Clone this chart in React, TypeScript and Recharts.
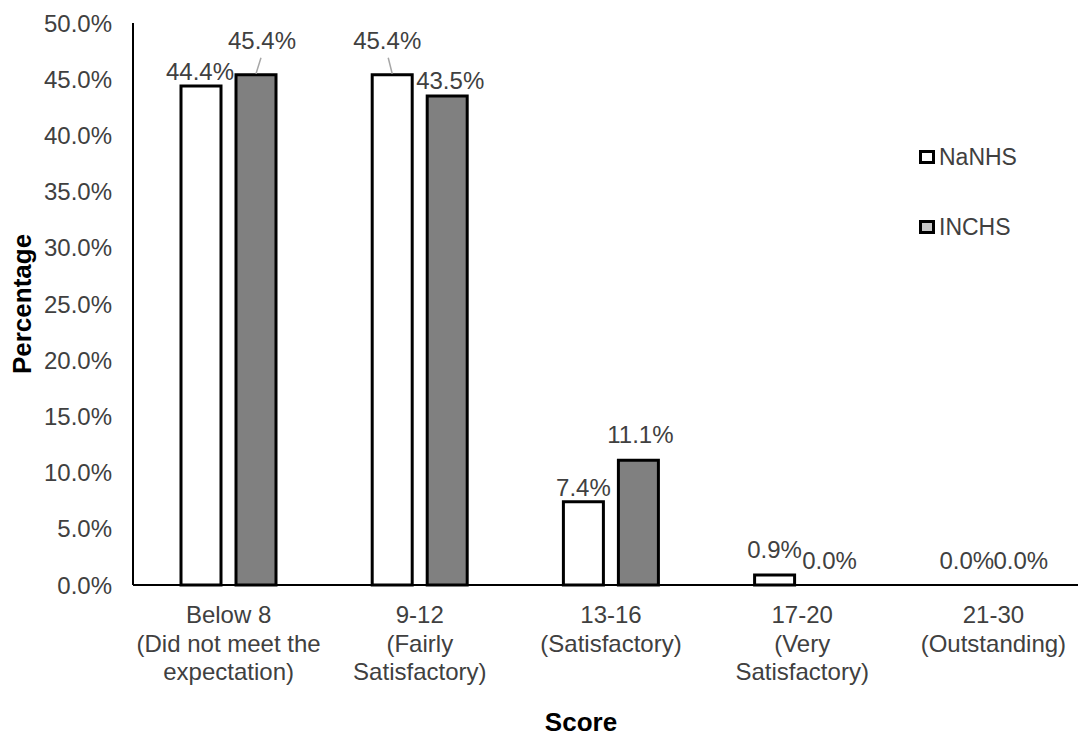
import React from 'react';
import { Bar, BarChart, LabelList, Legend, Rectangle, XAxis, YAxis } from 'recharts';

// score bands (line breaks as in the original axis)
const scoreBands = [
  'Below 8\n(Did not meet the\nexpectation)',
  '9-12\n(Fairly\nSatisfactory)',
  '13-16\n(Satisfactory)',
  '17-20\n(Very\nSatisfactory)',
  '21-30\n(Outstanding)',
];
const seriesNames = ['NaNHS', 'INCHS'];
const nanhsPct = [44.4, 45.4, 7.4, 0.9, 0.0];
const inchsPct = [45.4, 43.5, 11.1, 0.0, 0.0];
const yTicks = [0, 5, 10, 15, 20, 25, 30, 35, 40, 45, 50];

// label nudges [dx, dy] and leader lines, per bar
const nanhsNudge = [[-1, 0], [-5, -20], [0, 0], [0, -11], [1, -11]];
const inchsNudge = [[6, -20], [3, -2], [2, -12], [0, -11], [0, -11]];
const nanhsLeader = [false, true, false, false, false];
const inchsLeader = [true, false, false, false, false];
const legendSwatches = ['#ffffff', '#c8c8c8'];

const FONT = '"Liberation Sans", Arial, sans-serif';
const TEXT = '#404040';

const chartData = scoreBands.map((band, i) => ({
  band,
  NaNHS: nanhsPct[i],
  INCHS: inchsPct[i],
}));

const BandTick = (props: any) => {
  const { x, y, payload } = props;
  const lines = String(payload.value).split('\n');
  return (
    <text x={x} y={y} textAnchor="middle" fontSize={24} fill={TEXT} fontFamily={FONT}>
      {lines.map((ln, i) => (
        <tspan key={i} x={x} dy={i === 0 ? 38 : 28.5}>{ln}</tspan>
      ))}
    </text>
  );
};

// zero bars: keep the slot (so labels are placed) but draw nothing
const BarShape = (props: any) => (props.height > 0.5 ? <Rectangle {...props} /> : <g />);

const makeLabel = (nudges: number[][], leaders: boolean[]) => (props: any) => {
  const vb = props.viewBox ?? props;
  const x = props.x ?? vb.x;
  const y = props.y ?? vb.y;
  const width = props.width ?? vb.width;
  const { value, index } = props;
  const cx = x + width / 2;
  const [dx, dy] = nudges[index];
  const top = Number(value) === 0 ? y + (props.height ?? vb.height ?? 0) : y;
  const ly = top - 14 + dy;
  return (
    <g>
      {leaders[index] && (
        <line x1={cx + dx + (dx < 0 ? 1 : -1)} y1={ly + 17} x2={cx} y2={top - 1} stroke="#a6a6a6" strokeWidth={1.5} />
      )}
      <text x={cx + dx} y={ly} textAnchor="middle" dominantBaseline="central" fontSize={24} fill={TEXT} fontFamily={FONT}>
        {Number(value).toFixed(1)}%
      </text>
    </g>
  );
};

const renderLegend = ({ payload }: any) => {
  const items = seriesNames
    .map((name) => (payload || []).find((p: any) => p.value === name || p.dataKey === name))
    .filter(Boolean);
  return (
    <div style={{ fontFamily: FONT }}>
      {items.map((entry: any, i: number) => (
        <div key={entry.value} style={{ display: 'flex', alignItems: 'center', height: 24, marginBottom: i === 0 ? 46 : 0 }}>
          <span style={{ width: 10, height: 8, border: '3px solid #000', background: legendSwatches[i] }} />
          <span style={{ marginLeft: 4, fontSize: 23, color: TEXT }}>{entry.value}</span>
        </div>
      ))}
    </div>
  );
};

export default function App() {
  return (
    <div style={{ position: 'absolute', left: 0, top: 0, width: 1078, height: 736, overflow: 'hidden', background: '#fff', fontFamily: FONT }}>
      <BarChart
        width={1089}
        height={736}
        data={chartData}
        margin={{ top: 23, right: 0, bottom: 0, left: 0 }}
        barSize={40}
        barGap={15}
      >
        <XAxis
          dataKey="band"
          height={151}
          interval={0}
          tick={<BandTick />}
          tickLine={false}
          tickSize={0}
          tickMargin={0}
          axisLine={{ stroke: '#000', strokeWidth: 2 }}
          label={{
            content: () => (
              <text x={581} y={731} textAnchor="middle" fontSize={26} fontWeight="bold" fill="#000" fontFamily={FONT}>
                Score
              </text>
            ),
          }}
        />
        <YAxis
          width={133}
          domain={[0, 50]}
          ticks={yTicks}
          interval={0}
          tickFormatter={(v) => `${Number(v).toFixed(1)}%`}
          tick={{ fontSize: 24, fill: TEXT, fontFamily: FONT }}
          tickLine={false}
          tickSize={0}
          tickMargin={21}
          axisLine={{ stroke: '#000', strokeWidth: 2 }}
          label={{
            content: () => (
              <text
                x={0}
                y={0}
                transform="translate(31 304) rotate(-90)"
                textAnchor="middle"
                fontSize={26}
                fontWeight="bold"
                fill="#000"
                fontFamily={FONT}
              >
                Percentage
              </text>
            ),
          }}
        />
        <Legend
          layout="vertical"
          align="center"
          verticalAlign="middle"
          content={renderLegend}
          wrapperStyle={{ left: 919, top: 145, width: 'auto' }}
        />
        <Bar dataKey="NaNHS" fill="#ffffff" stroke="#000" strokeWidth={3} minPointSize={0.01} shape={BarShape} isAnimationActive={false}>
          <LabelList dataKey="NaNHS" content={makeLabel(nanhsNudge, nanhsLeader)} />
        </Bar>
        <Bar dataKey="INCHS" fill="#808080" stroke="#000" strokeWidth={3} minPointSize={0.01} shape={BarShape} isAnimationActive={false}>
          <LabelList dataKey="INCHS" content={makeLabel(inchsNudge, inchsLeader)} />
        </Bar>
      </BarChart>
    </div>
  );
}
